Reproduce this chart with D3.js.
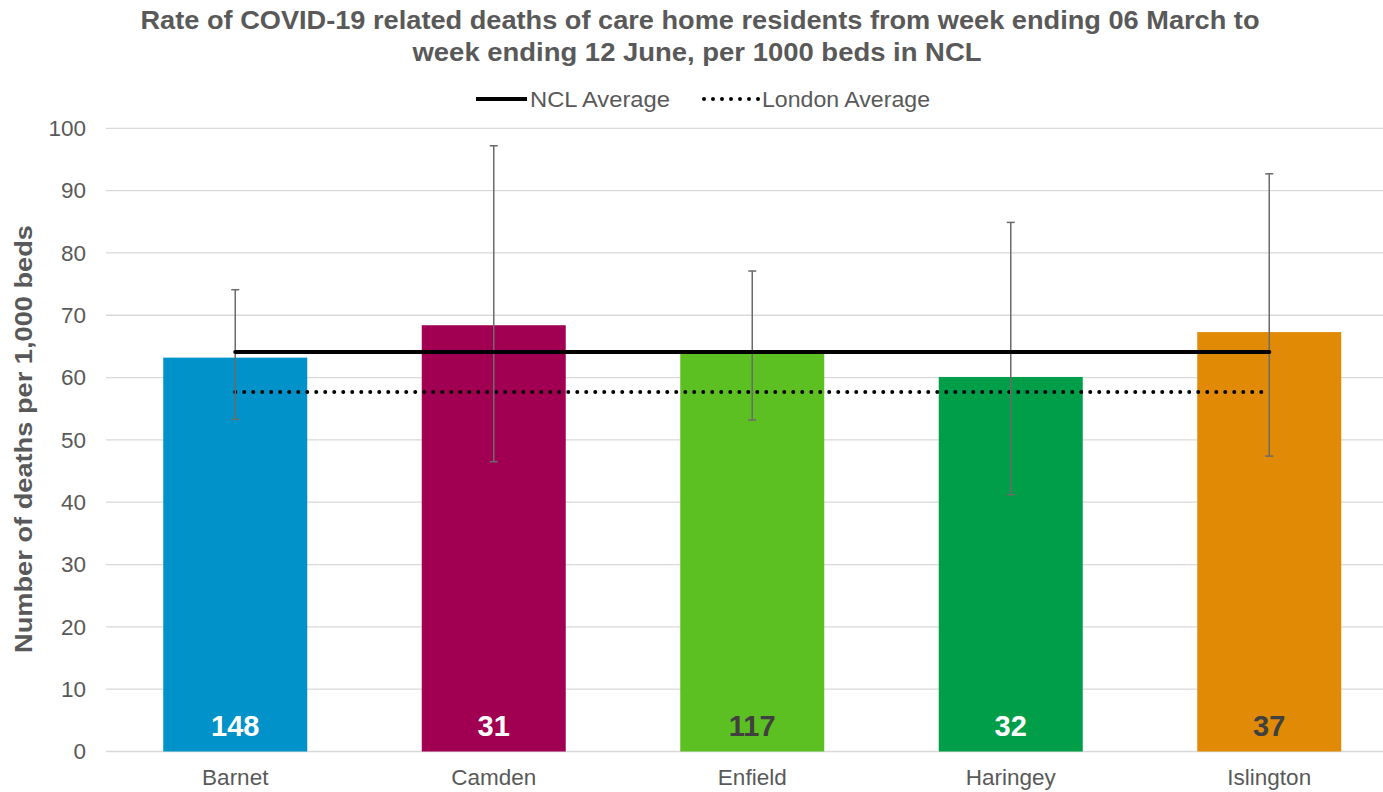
<!DOCTYPE html>
<html lang="en">
<head>
<meta charset="UTF-8">
<title>COVID-19 care home deaths NCL</title>
<script src="https://cdn.jsdelivr.net/npm/d3@7"></script>
<style>
  html, body { margin: 0; padding: 0; background: #fff; }
  svg { display: block; font-family: "Liberation Sans", Arial, sans-serif; }
</style>
</head>
<body>
<svg id="chart" width="1383" height="792"></svg>
<script>
// data
var boroughs  = ["Barnet", "Camden", "Enfield", "Haringey", "Islington"];
var rates     = [63.2, 68.4, 64.2, 60.1, 67.3];
var lowerCI   = [53.3, 46.5, 53.2, 41.2, 47.4];
var upperCI   = [74.1, 97.2, 77.1, 84.9, 92.7];
var deaths    = [148, 31, 117, 32, 37];
var barColors = ["#0092c8", "#a10052", "#5cbf22", "#009e48", "#e08a05"];
var labelColors = ["#ffffff", "#ffffff", "#404040", "#ffffff", "#404040"];
var nclAverage = 64.1;
var londonAverage = 57.7;
var yTicks = [0, 10, 20, 30, 40, 50, 60, 70, 80, 90, 100];

var svg = d3.select("#chart");
var grey = "#595959";

var x = d3.scaleBand()
    .domain(boroughs)
    .range([106, 1398.5])
    .paddingInner(0.443)
    .paddingOuter(0.2215);

var y = d3.scaleLinear()
    .domain([0, 100])
    .range([751.5, 128.3]);

// title
var title = svg.append("g")
    .style("font-size", "25.5px").style("font-weight", "bold").attr("fill", grey)
    .attr("text-anchor", "middle");
title.append("text").attr("x", 700).attr("y", 29)
    .attr("textLength", 1119).attr("lengthAdjust", "spacingAndGlyphs")
    .text("Rate of COVID-19 related deaths of care home residents from week ending 06 March to");
title.append("text").attr("x", 697).attr("y", 61)
    .attr("textLength", 569).attr("lengthAdjust", "spacingAndGlyphs")
    .text("week ending 12 June, per 1000 beds in NCL");

// legend
var lg = svg.append("g").style("font-size", "22px").attr("fill", grey);
lg.append("line").attr("x1", 476).attr("x2", 527).attr("y1", 99).attr("y2", 99)
    .attr("stroke", "#000").attr("stroke-width", 4);
lg.append("text").attr("x", 530).attr("y", 107)
    .attr("textLength", 140).attr("lengthAdjust", "spacingAndGlyphs").text("NCL Average");
lg.append("line").attr("x1", 704).attr("x2", 759).attr("y1", 99).attr("y2", 99)
    .attr("stroke", "#000").attr("stroke-width", 4)
    .attr("stroke-linecap", "round").attr("stroke-dasharray", "0 9");
lg.append("text").attr("x", 762).attr("y", 107)
    .attr("textLength", 168).attr("lengthAdjust", "spacingAndGlyphs").text("London Average");

// gridlines
svg.append("g").selectAll("line").data(yTicks).join("line")
    .attr("x1", 106).attr("x2", 1398)
    .attr("y1", function(d) { return y(d); }).attr("y2", function(d) { return y(d); })
    .attr("stroke", "#d9d9d9").attr("stroke-width", 1.3);

// y axis labels
var yAxis = svg.append("g").attr("transform", "translate(106,0)")
    .call(d3.axisLeft(y).tickValues(yTicks).tickSize(0).tickPadding(20));
yAxis.select(".domain").remove();
yAxis.selectAll("text").style("font-size", "22.5px").style("font-family", "Liberation Sans, Arial, sans-serif")
    .attr("fill", grey);

svg.append("text")
    .attr("transform", "translate(32,439) rotate(-90)")
    .attr("text-anchor", "middle")
    .attr("textLength", 428).attr("lengthAdjust", "spacingAndGlyphs")
    .style("font-size", "24px").style("font-weight", "bold").attr("fill", grey)
    .text("Number of deaths per 1,000 beds");

// x axis labels
var xAxis = svg.append("g").attr("transform", "translate(0,751.5)")
    .call(d3.axisBottom(x).tickSize(0).tickPadding(18));
xAxis.select(".domain").remove();
xAxis.selectAll("text").style("font-size", "22.5px").style("font-family", "Liberation Sans, Arial, sans-serif")
    .attr("fill", grey);

// bars
svg.append("g").selectAll("rect").data(boroughs).join("rect")
    .attr("x", function(d) { return x(d); })
    .attr("width", x.bandwidth())
    .attr("y", function(d, i) { return y(rates[i]); })
    .attr("height", function(d, i) { return y(0) - y(rates[i]); })
    .attr("fill", function(d, i) { return barColors[i]; });

// count labels
svg.append("g").selectAll("text").data(boroughs).join("text")
    .attr("x", function(d) { return x(d) + x.bandwidth() / 2; })
    .attr("y", 736)
    .attr("text-anchor", "middle")
    .style("font-size", "29px").style("font-weight", "bold")
    .attr("fill", function(d, i) { return labelColors[i]; })
    .text(function(d, i) { return deaths[i]; });

// average lines
var first = x(boroughs[0]) + x.bandwidth() / 2;
var last = x(boroughs[boroughs.length - 1]) + x.bandwidth() / 2;
svg.append("line").attr("x1", first).attr("x2", last - 7)
    .attr("y1", y(londonAverage)).attr("y2", y(londonAverage))
    .attr("stroke", "#000").attr("stroke-width", 4)
    .attr("stroke-linecap", "round").attr("stroke-dasharray", "0 9");

// error bars
var eb = svg.append("g").attr("stroke", "#6b6b6b").attr("stroke-width", 1.5);
boroughs.forEach(function(b, i) {
    var cx = x(b) + x.bandwidth() / 2;
    eb.append("line").attr("x1", cx).attr("x2", cx)
        .attr("y1", y(lowerCI[i])).attr("y2", y(upperCI[i]));
    eb.append("line").attr("x1", cx - 4).attr("x2", cx + 4)
        .attr("y1", y(lowerCI[i])).attr("y2", y(lowerCI[i]));
    eb.append("line").attr("x1", cx - 4).attr("x2", cx + 4)
        .attr("y1", y(upperCI[i])).attr("y2", y(upperCI[i]));
});

svg.append("line").attr("x1", first).attr("x2", last)
    .attr("y1", y(nclAverage)).attr("y2", y(nclAverage))
    .attr("stroke", "#000").attr("stroke-width", 4).attr("stroke-linecap", "round");
</script>
</body>
</html>
